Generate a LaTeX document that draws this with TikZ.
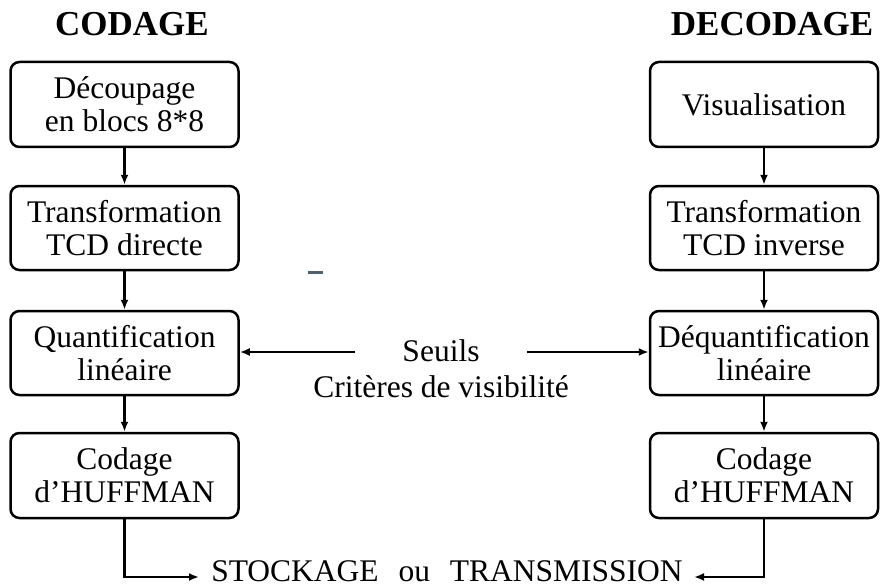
\documentclass[tikz,border=0pt]{standalone}
\usepackage{fontspec}
\setmainfont{Liberation Serif}
\usetikzlibrary{arrows.meta}
\tikzset{
  stepbox/.style={draw, line width=2.5pt, rounded corners=9pt, minimum width=228pt,
    minimum height=85pt, align=center, inner sep=0pt,
    font=\fontsize{31.5}{33}\selectfont},
  plain/.style={inner sep=0pt, align=center, font=\fontsize{31.5}{36}\selectfont},
  heading/.style={inner sep=0pt, font=\fontsize{35}{40}\selectfont\bfseries},
  arr/.style={line width=2.5pt, -{Latex[length=10pt,width=8pt]}}
}
\begin{document}
\begin{tikzpicture}[x=1pt,y=-1pt]
\useasboundingbox (0,0) rectangle (882,588);

% column headings
\node[heading] (hcod) at (132,24) {CODAGE};
\node[heading] (hdec) at (772,24) {DECODAGE};

% coding chain
\node[stepbox] (L1) at (124.5,104.5) {Découpage\\en blocs 8*8};
\node[stepbox, minimum height=84pt] (L2) at (124.5,228) {Transformation\\TCD directe};
\node[stepbox, minimum height=84pt] (L3) at (124.5,353) {Quantification\\linéaire};
\node[stepbox] (L4) at (124.5,475.5) {Codage\\d'HUFFMAN};

% decoding chain
\node[stepbox] (R1) at (764,104.5) {Visualisation};
\node[stepbox, minimum height=84pt] (R2) at (764,228) {Transformation\\TCD inverse};
\node[stepbox, minimum height=84pt] (R3) at (764,353) {Déquantification\\linéaire};
\node[stepbox] (R4) at (764,475.5) {Codage\\d'HUFFMAN};

\draw[arr] (L1) -- (L2);
\draw[arr] (L2) -- (L3);
\draw[arr] (L3) -- (L4);
\draw[arr] (R1) -- (R2);
\draw[arr] (R2) -- (R3);
\draw[arr] (R3) -- (R4);

% thresholds shared by both quantifiers
\node[plain] (seuils) at (441,369) {Seuils\\Critères de visibilité};
\coordinate (sl) at (355,352);
\coordinate (sr) at (527,352);
\draw[arr] (sl) -- (L3.east |- sl);
\draw[arr] (sr) -- (R3.west |- sr);

% small mark
\draw[line width=3pt, color={rgb,255:red,80;green,96;blue,108}] (308,272) -- (323,272);

% storage / transmission
\node[plain] (stock) at (447,571) {STOCKAGE\hspace{12pt} ou\hspace{12pt} TRANSMISSION};
\coordinate (bl) at (199,577);
\coordinate (br) at (694,577);
\draw[arr] (L4.south) |- (bl);
\draw[arr] (R4.south) |- (br);
\end{tikzpicture}
\end{document}
